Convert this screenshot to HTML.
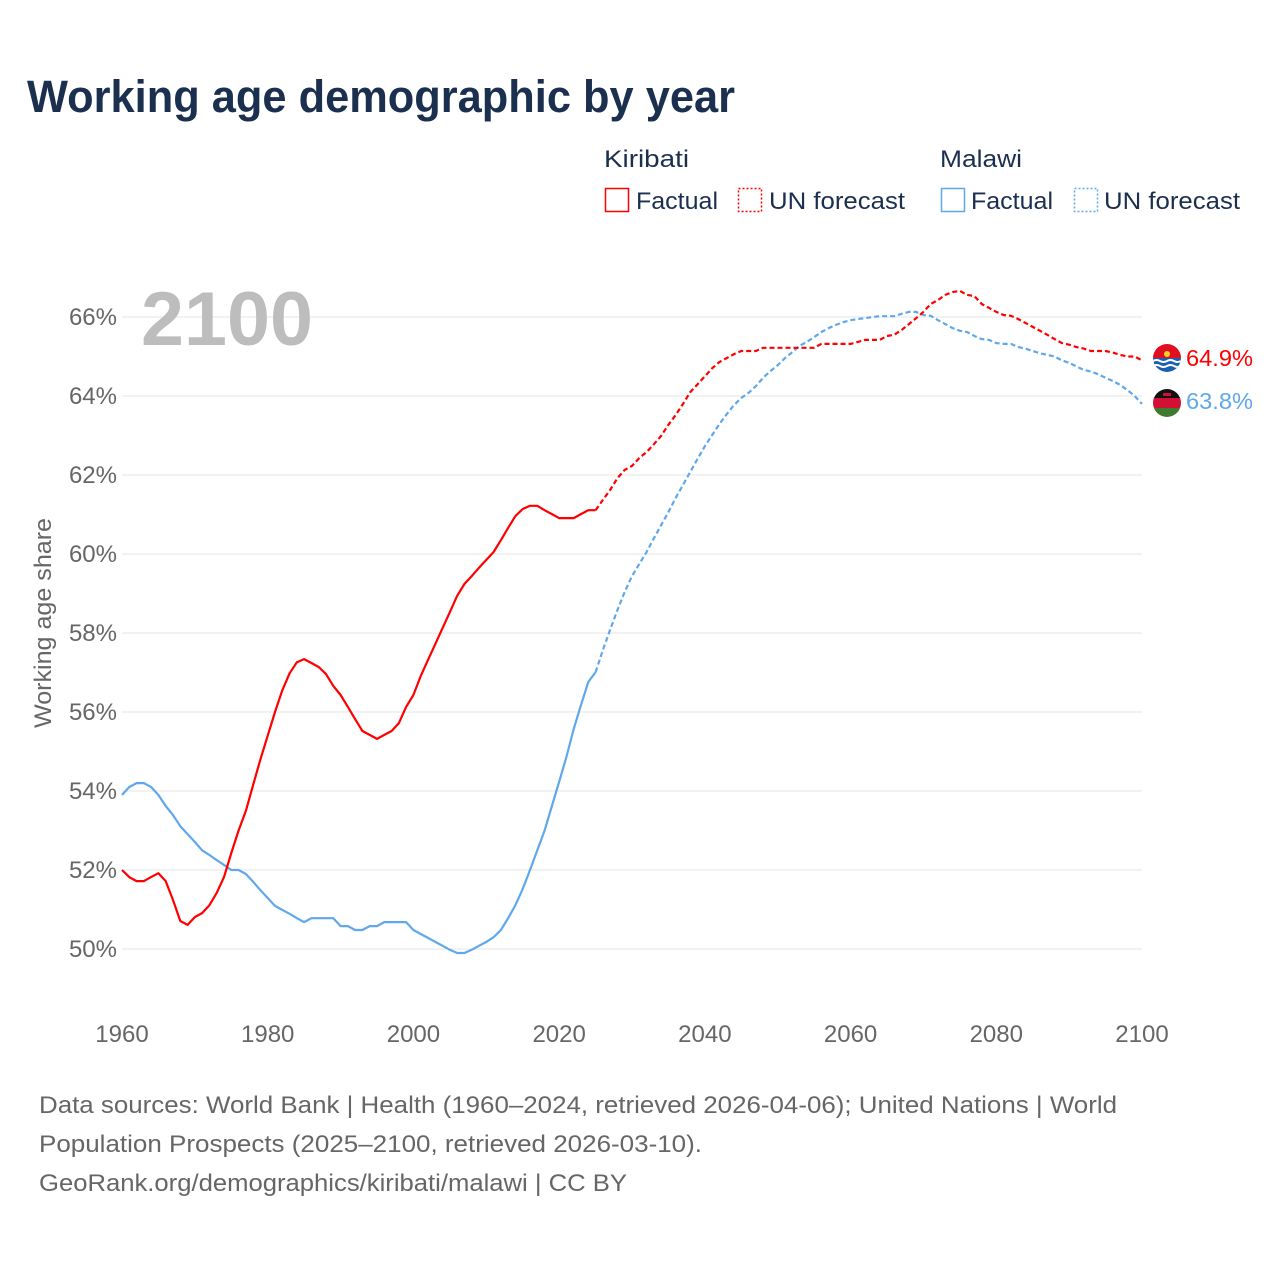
<!DOCTYPE html>
<html><head><meta charset="utf-8">
<style>
body{margin:0;background:#fff;width:1280px;height:1280px;overflow:hidden;font-family:"Liberation Sans",sans-serif}
svg text{font-family:"Liberation Sans",sans-serif}
</style></head>
<body>
<svg id="chart" width="1280" height="1280" viewBox="0 0 1280 1280" xmlns="http://www.w3.org/2000/svg">
<text x="27" y="112" font-size="45" font-weight="bold" fill="#1b2f4e" textLength="708" lengthAdjust="spacingAndGlyphs">Working age demographic by year</text>
<g font-size="24" fill="#1b2f4e">
<text x="604" y="167" textLength="85" lengthAdjust="spacingAndGlyphs">Kiribati</text>
<text x="940" y="167" textLength="82" lengthAdjust="spacingAndGlyphs">Malawi</text>
<rect x="605.5" y="188.5" width="23" height="23" fill="none" stroke="#ff0000" stroke-width="1.5"/>
<text x="636" y="209" textLength="82" lengthAdjust="spacingAndGlyphs">Factual</text>
<rect x="738.5" y="188.5" width="23" height="23" fill="none" stroke="#ff0000" stroke-width="1.5" stroke-dasharray="2,2"/>
<text x="769" y="209" textLength="136" lengthAdjust="spacingAndGlyphs">UN forecast</text>
<rect x="941.5" y="188.5" width="23" height="23" fill="none" stroke="#5fa8ec" stroke-width="1.5"/>
<text x="971" y="209" textLength="82" lengthAdjust="spacingAndGlyphs">Factual</text>
<rect x="1074.5" y="188.5" width="23" height="23" fill="none" stroke="#5fa8ec" stroke-width="1.5" stroke-dasharray="2,2"/>
<text x="1104" y="209" textLength="136" lengthAdjust="spacingAndGlyphs">UN forecast</text>
</g>
<g id="grid"></g>
<text x="141" y="345" font-size="76" font-weight="bold" fill="#bdbdbd" textLength="172" lengthAdjust="spacingAndGlyphs">2100</text>
<text transform="translate(51,623) rotate(-90)" text-anchor="middle" font-size="24" fill="#666" textLength="210" lengthAdjust="spacingAndGlyphs">Working age share</text>
<g id="series"></g>
<g>
<g>
<clipPath id="ck"><circle cx="1167" cy="358" r="14"/></clipPath>
<g clip-path="url(#ck)"><rect x="1153" y="344" width="28" height="14" fill="#e01020"/><rect x="1153" y="358" width="28" height="14" fill="#1a5fb0"/>
<path d="M1153 361q3.5-2 7 0t7 0 7 0 7 0M1153 366q3.5-2 7 0t7 0 7 0 7 0" stroke="#fff" stroke-width="2" fill="none"/><circle cx="1167" cy="354" r="3" fill="#f8d020"/></g></g>
<g>
<clipPath id="cm"><circle cx="1167" cy="403" r="14"/></clipPath>
<g clip-path="url(#cm)"><rect x="1153" y="389" width="28" height="10" fill="#111"/><rect x="1153" y="398" width="28" height="10" fill="#d21034"/><rect x="1153" y="408" width="28" height="10" fill="#3f7a30"/><rect x="1163" y="393" width="8" height="3" fill="#d21034"/></g></g>
<text id="lab-k" x="1186" y="366" font-size="23" fill="#ff0000" textLength="67" lengthAdjust="spacingAndGlyphs">64.9%</text>
<text id="lab-m" x="1186" y="409" font-size="23" fill="#5fa8ec" textLength="67" lengthAdjust="spacingAndGlyphs">63.8%</text>
</g>
<g font-size="24" fill="#666">
<text x="39" y="1113" textLength="1078" lengthAdjust="spacingAndGlyphs">Data sources: World Bank | Health (1960–2024, retrieved 2026-04-06); United Nations | World</text>
<text x="39" y="1152" textLength="663" lengthAdjust="spacingAndGlyphs">Population Prospects (2025–2100, retrieved 2026-03-10).</text>
<text x="39" y="1191" textLength="588" lengthAdjust="spacingAndGlyphs">GeoRank.org/demographics/kiribati/malawi | CC BY</text>
</g>
</svg>
<script>
const yTicks=[50,52,54,56,58,60,62,64,66];
const xTicks=[1960,1980,2000,2020,2040,2060,2080,2100];
const startYear=1960;
const forecastStart=2025;
const kiribati=[52.0,51.82,51.72,51.72,51.82,51.92,51.72,51.24,50.71,50.61,50.81,50.91,51.11,51.42,51.82,52.43,53.0,53.5,54.15,54.8,55.4,56.0,56.55,56.98,57.26,57.34,57.24,57.14,56.96,56.66,56.43,56.13,55.82,55.52,55.42,55.32,55.42,55.52,55.72,56.13,56.43,56.91,57.32,57.72,58.13,58.53,58.94,59.24,59.44,59.65,59.85,60.05,60.35,60.66,60.96,61.14,61.22,61.22,61.11,61.01,60.91,60.91,60.91,61.01,61.11,61.11,
61.37,61.62,61.92,62.13,62.23,62.43,62.58,62.78,62.99,63.27,63.52,63.8,64.1,64.3,64.5,64.7,64.86,64.96,65.06,65.14,65.14,65.14,65.22,65.22,65.22,65.22,65.22,65.22,65.22,65.22,65.32,65.32,65.32,65.32,65.32,65.37,65.42,65.42,65.42,65.52,65.55,65.67,65.82,65.97,66.13,66.33,66.43,66.56,66.63,66.66,66.56,66.53,66.33,66.23,66.13,66.05,66.03,65.95,65.85,65.75,65.65,65.55,65.44,65.34,65.3,65.24,65.2,65.14,65.14,65.14,65.1,65.04,65.0,65.0,64.9];
const malawi=[53.9,54.1,54.2,54.2,54.1,53.9,53.62,53.39,53.11,52.91,52.71,52.5,52.38,52.25,52.13,52.0,52.0,51.9,51.7,51.49,51.29,51.09,50.99,50.89,50.78,50.68,50.78,50.78,50.78,50.78,50.58,50.58,50.48,50.48,50.58,50.58,50.68,50.68,50.68,50.68,50.48,50.38,50.28,50.18,50.08,49.98,49.9,49.9,49.98,50.08,50.18,50.3,50.48,50.78,51.11,51.52,52.0,52.5,53.0,53.62,54.23,54.86,55.57,56.18,56.76,57.01,
57.57,58.08,58.58,59.04,59.44,59.75,60.05,60.4,60.73,61.06,61.42,61.75,62.08,62.41,62.73,63.01,63.29,63.54,63.77,63.95,64.08,64.25,64.46,64.63,64.78,64.96,65.11,65.27,65.37,65.49,65.62,65.72,65.8,65.87,65.92,65.95,65.97,66.0,66.02,66.02,66.02,66.08,66.13,66.13,66.05,66.03,65.92,65.82,65.72,65.65,65.62,65.52,65.44,65.42,65.34,65.32,65.32,65.24,65.2,65.14,65.08,65.04,65.0,64.9,64.84,64.75,64.66,64.62,64.55,64.46,64.38,64.28,64.15,64.0,63.8];
const NS='http://www.w3.org/2000/svg';
const X0=122,X1=1142,Y50=949,Y66=317;
function xs(yr){return X0+(yr-1960)*(X1-X0)/140;}
function ys(v){return Y50-(v-50)*(Y50-Y66)/16;}
const grid=document.getElementById('grid');
yTicks.forEach(t=>{
 const l=document.createElementNS(NS,'line');
 
 
 l.setAttribute('x1',X0);l.setAttribute('x2',X1);l.setAttribute('y1',ys(t));l.setAttribute('y2',ys(t));
 l.setAttribute('stroke','#e6e6e6');l.setAttribute('stroke-width','1');
 grid.appendChild(l);
 const tx=document.createElementNS(NS,'text');
 
 
 tx.setAttribute('x',117);tx.setAttribute('y',ys(t)+8);tx.setAttribute('text-anchor','end');
 tx.setAttribute('font-size','24');tx.setAttribute('fill','#666');tx.textContent=t+'%';
 grid.appendChild(tx);
});
xTicks.forEach(t=>{
 const tx=document.createElementNS(NS,'text');
 
 
 tx.setAttribute('x',xs(t));tx.setAttribute('y',1042);tx.setAttribute('text-anchor','middle');
 tx.setAttribute('font-size','24');tx.setAttribute('fill','#666');tx.textContent=t;
 grid.appendChild(tx);
});
const sg=document.getElementById('series');
function draw(arr,color,name){
 const fi=forecastStart-startYear;
 const a=arr.slice(0,fi+1).map((v,i)=>xs(startYear+i).toFixed(1)+','+ys(v).toFixed(1)).join(' ');
 const b=arr.slice(fi).map((v,i)=>xs(forecastStart+i).toFixed(1)+','+ys(v).toFixed(1)).join(' ');
 const p1=document.createElementNS(NS,'polyline');
 
 
 p1.setAttribute('points',a);p1.setAttribute('fill','none');p1.setAttribute('stroke',color);p1.setAttribute('stroke-width','2.2');p1.setAttribute('stroke-linejoin','round');
 sg.appendChild(p1);
 const p2=document.createElementNS(NS,'polyline');
 
 
 p2.setAttribute('points',b);p2.setAttribute('fill','none');p2.setAttribute('stroke',color);p2.setAttribute('stroke-width','2.2');p2.setAttribute('stroke-dasharray','5,3');
 sg.appendChild(p2);
}
draw(malawi,'#5fa8ec','malawi');
draw(kiribati,'#ff0000','kiribati');
document.getElementById('lab-k').textContent=kiribati[kiribati.length-1].toFixed(1)+'%';
document.getElementById('lab-m').textContent=malawi[malawi.length-1].toFixed(1)+'%';
</script>
</body></html>
